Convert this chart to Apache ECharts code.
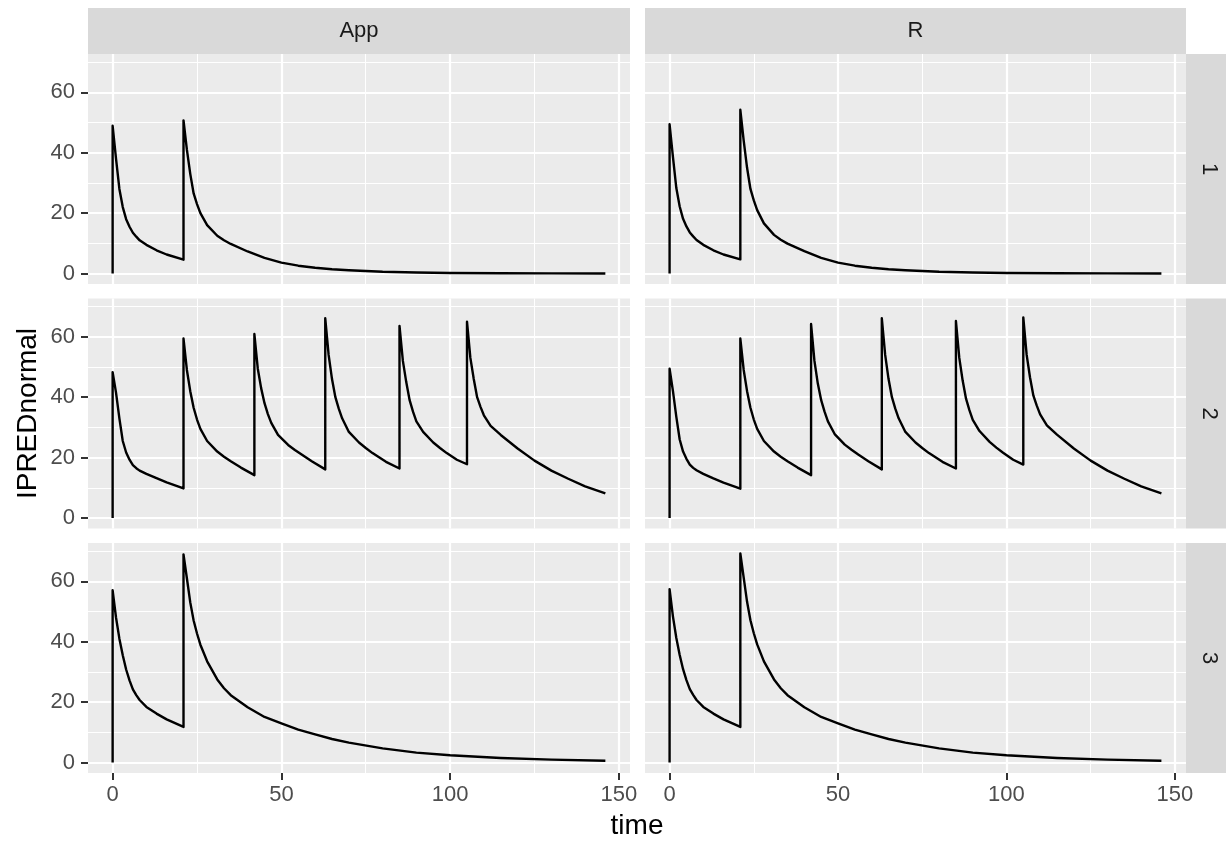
<!DOCTYPE html>
<html>
<head>
<meta charset="utf-8">
<script src="https://cdn.jsdelivr.net/npm/echarts@6/dist/echarts.min.js"></script>
<style>
html,body{margin:0;padding:0;background:#ffffff;}
#chart{width:1226px;height:842px;}
</style>
</head>
<body>
<div id="chart"></div>
<script>
// ---------------- data ----------------
const facetCols = ['App', 'R'];
const facetRows = ['1', '2', '3'];

const timeTwoDoses = [0, 0, 1, 2, 3, 4, 5, 6, 7, 8, 10, 13, 16, 21,
  21, 22, 23, 24, 25, 26, 28, 31, 33, 35, 40, 45, 50, 55, 60, 65, 70, 80, 90, 100, 115, 130, 146];

const timeSixDoses = [0, 0, 1, 2, 3, 4, 5, 6, 7, 8, 10, 13, 16, 21,
  21, 22, 23, 24, 25, 26, 28, 31, 33, 35, 38, 42,
  42, 43, 44, 45, 46, 47, 49, 52, 54, 56, 59, 63,
  63, 64, 65, 66, 67, 68, 70, 73, 75, 77, 81, 85,
  85, 86, 87, 88, 89, 90, 92, 95, 97, 99, 102, 105,
  105, 106, 107, 108, 109, 110, 112, 115, 120, 125, 130, 135, 140, 146];

const ipredApp1 = [0, 48.9, 38, 28, 22, 18, 15.5, 13.5, 12.2, 11, 9.5, 7.7, 6.3, 4.6,
  50.7, 41, 33, 26.5, 23, 20, 16, 12.5, 11, 9.8, 7.3, 5.2, 3.6, 2.6, 1.9, 1.4, 1.1, 0.6, 0.35, 0.2, 0.1, 0.05, 0.02];
const ipredR1 = [0, 49.4, 38.5, 28.3, 22.2, 18.1, 15.6, 13.6, 12.3, 11.1, 9.5, 7.7, 6.3, 4.7,
  54.2, 44, 35, 28, 24.2, 21, 16.6, 12.8, 11.2, 9.9, 7.4, 5.2, 3.6, 2.6, 1.9, 1.4, 1.1, 0.6, 0.35, 0.2, 0.1, 0.05, 0.02];

const ipredApp2 = [0, 48.3, 41.5, 33, 25.5, 21.7, 19.3, 17.5, 16.5, 15.7, 14.6, 13.2, 11.8, 9.8,
  59.4, 49, 42, 36.5, 32.6, 29.5, 25.5, 22, 20.3, 18.8, 16.7, 14.2,
  60.9, 49.5, 43, 38, 34.4, 31.5, 27.5, 24.2, 22.5, 21, 18.8, 16.1,
  66.1, 54, 46, 40, 36.2, 33, 28.5, 25, 23.2, 21.5, 18.6, 16.4,
  63.6, 52, 45, 39, 35.2, 32, 28.5, 25, 23.2, 21.5, 19.3, 17.8,
  65, 53, 46, 40, 36.8, 34, 30.5, 27.5, 23, 19, 15.7, 13, 10.5, 8.2];
const ipredR2 = [0, 49.4, 42, 33.5, 26, 22, 19.6, 17.7, 16.6, 15.8, 14.6, 13.1, 11.7, 9.7,
  59.4, 49, 42, 36.5, 32.6, 29.5, 25.5, 22, 20.3, 18.8, 16.7, 14.2,
  64.2, 52, 44.5, 39, 35.2, 32, 27.8, 24.3, 22.6, 21, 18.8, 16.1,
  66.1, 54, 46, 40, 36.2, 33, 28.5, 25, 23.2, 21.5, 18.6, 16.4,
  65.2, 53, 45.5, 39.5, 35.7, 32.5, 28.8, 25.2, 23.3, 21.6, 19.3, 17.7,
  66.4, 54, 46.5, 40.5, 37.2, 34.3, 30.7, 27.6, 23, 19, 15.7, 13, 10.5, 8.2];

const ipredApp3 = [0, 57, 48, 41, 35.5, 30.8, 27.2, 24.2, 22.3, 20.7, 18.4, 16.2, 14.3, 11.8,
  68.9, 61, 53, 47, 42.7, 39, 33.5, 27.5, 24.6, 22.3, 18.3, 15.1, 13, 10.9, 9.3, 7.8, 6.6, 4.7, 3.3, 2.4, 1.5, 0.95, 0.6];
const ipredR3 = [0, 57.4, 48.3, 41.2, 35.6, 30.9, 27.3, 24.3, 22.4, 20.7, 18.4, 16.2, 14.3, 11.8,
  69.2, 61.2, 53.2, 47.1, 42.8, 39.1, 33.5, 27.5, 24.6, 22.3, 18.3, 15.1, 13, 10.9, 9.3, 7.8, 6.6, 4.7, 3.3, 2.4, 1.5, 0.95, 0.6];

const xMajorTicks = [0, 50, 100, 150];
const xMinorTicks = [25, 75, 125];
const yMajorTicks = [0, 20, 40, 60];
const yMinorTicks = [10, 30, 50, 70];

const panels = [
  { row: 0, col: 0, time: timeTwoDoses, values: ipredApp1 },
  { row: 0, col: 1, time: timeTwoDoses, values: ipredR1 },
  { row: 1, col: 0, time: timeSixDoses, values: ipredApp2 },
  { row: 1, col: 1, time: timeSixDoses, values: ipredR2 },
  { row: 2, col: 0, time: timeTwoDoses, values: ipredApp3 },
  { row: 2, col: 1, time: timeTwoDoses, values: ipredR3 }
];

// ---------------- layout ----------------
const FONT = "'Liberation Sans', Arial, Helvetica, sans-serif";
const colLeft = [88, 645];
const colWidth = [542, 541];
const rowTop = [54, 298.5, 543];
const rowHeight = 230;
const stripTop = 8, stripH = 46, stripRightX = 1186, stripW = 46;

// fixed scales across facets with 5% expansion
let tMin = Infinity, tMax = -Infinity, vMin = Infinity, vMax = -Infinity;
panels.forEach(p => {
  p.time.forEach(t => { tMin = Math.min(tMin, t); tMax = Math.max(tMax, t); });
  p.values.forEach(v => { vMin = Math.min(vMin, v); vMax = Math.max(vMax, v); });
});
const tPad = (tMax - tMin) * 0.05, vPad = (vMax - vMin) * 0.05;
const xLim = [tMin - tPad, tMax + tPad];
const yLim = [vMin - vPad, vMax + vPad];

const grids = [], xAxes = [], yAxes = [], series = [], graphics = [];
const hiddenLine = { show: true, onZero: false, lineStyle: { color: 'rgba(0,0,0,0)', width: 0 } };

panels.forEach((p, i) => {
  grids.push({
    left: colLeft[p.col], top: rowTop[p.row], width: colWidth[p.col], height: rowHeight,
    show: true, backgroundColor: '#EBEBEB', borderWidth: 0, containLabel: false
  });
  const showX = p.row === 2, showY = p.col === 0;
  xAxes.push({
    type: 'value', gridIndex: i, min: xLim[0], max: xLim[1], position: 'bottom',
    axisLine: hiddenLine,
    splitLine: { show: false },
    axisTick: { show: showX, inside: false, customValues: xMajorTicks, length: 7, lineStyle: { color: '#333333', width: 2 } },
    axisLabel: { show: showX, customValues: xMajorTicks, margin: 11, fontSize: 22, color: '#4D4D4D', fontFamily: FONT }
  });
  yAxes.push({
    type: 'value', gridIndex: i, min: yLim[0], max: yLim[1], position: 'left',
    axisLine: hiddenLine,
    splitLine: { show: false },
    axisTick: { show: showY, inside: false, customValues: yMajorTicks, length: 7, lineStyle: { color: '#333333', width: 2 } },
    axisLabel: { show: showY, customValues: yMajorTicks, margin: 13, fontSize: 22, color: '#4D4D4D', fontFamily: FONT }
  });
  const gl = [];
  xMinorTicks.forEach(v => gl.push({ xAxis: v, lineStyle: { color: '#FFFFFF', width: 1.1, type: 'solid' } }));
  yMinorTicks.forEach(v => gl.push({ yAxis: v, lineStyle: { color: '#FFFFFF', width: 1.1, type: 'solid' } }));
  xMajorTicks.forEach(v => gl.push({ xAxis: v, lineStyle: { color: '#FFFFFF', width: 2.2, type: 'solid' } }));
  yMajorTicks.forEach(v => gl.push({ yAxis: v, lineStyle: { color: '#FFFFFF', width: 2.2, type: 'solid' } }));
  series.push({
    type: 'line', xAxisIndex: i, yAxisIndex: i, data: [], silent: true, z: 1,
    markLine: {
      silent: true, symbol: ['none', 'none'], label: { show: false }, animation: false,
      emphasis: { disabled: true }, data: gl
    }
  });
  series.push({
    type: 'line', xAxisIndex: i, yAxisIndex: i, z: 10,
    data: p.time.map((t, k) => [t, p.values[k]]),
    showSymbol: false, symbol: 'none', silent: true,
    lineStyle: { color: '#000000', width: 2.4, join: 'round' },
    emphasis: { disabled: true }
  });
});

// strips
facetCols.forEach((name, c) => {
  graphics.push({ type: 'rect', shape: { x: colLeft[c], y: stripTop, width: colWidth[c], height: stripH }, style: { fill: '#D9D9D9' }, silent: true });
  graphics.push({ type: 'text', x: colLeft[c] + colWidth[c] / 2, y: stripTop + stripH / 2,
    style: { text: name, fontSize: 22, fontFamily: FONT, fill: '#1A1A1A', align: 'center', verticalAlign: 'middle' }, silent: true });
});
facetRows.forEach((name, r) => {
  graphics.push({ type: 'rect', shape: { x: stripRightX, y: rowTop[r], width: stripW, height: rowHeight }, style: { fill: '#D9D9D9' }, silent: true });
  graphics.push({ type: 'text', x: stripRightX + stripW / 2, y: rowTop[r] + rowHeight / 2, rotation: -Math.PI / 2,
    style: { text: name, fontSize: 22, fontFamily: FONT, fill: '#1A1A1A', align: 'center', verticalAlign: 'middle' }, silent: true });
});
// axis titles
graphics.push({ type: 'text', x: 28, y: (rowTop[0] + rowTop[2] + rowHeight) / 2, rotation: Math.PI / 2,
  style: { text: 'IPREDnormal', fontSize: 28, fontFamily: FONT, fill: '#000000', align: 'center', verticalAlign: 'middle' }, silent: true });
graphics.push({ type: 'text', x: (colLeft[0] + colLeft[1] + colWidth[1]) / 2, y: 826,
  style: { text: 'time', fontSize: 28, fontFamily: FONT, fill: '#000000', align: 'center', verticalAlign: 'middle' }, silent: true });

const chart = echarts.init(document.getElementById('chart'), null, { renderer: 'canvas' });
chart.setOption({
  backgroundColor: '#FFFFFF',
  animation: false,
  grid: grids,
  xAxis: xAxes,
  yAxis: yAxes,
  series: series,
  graphic: { elements: graphics }
});
</script>
</body>
</html>
